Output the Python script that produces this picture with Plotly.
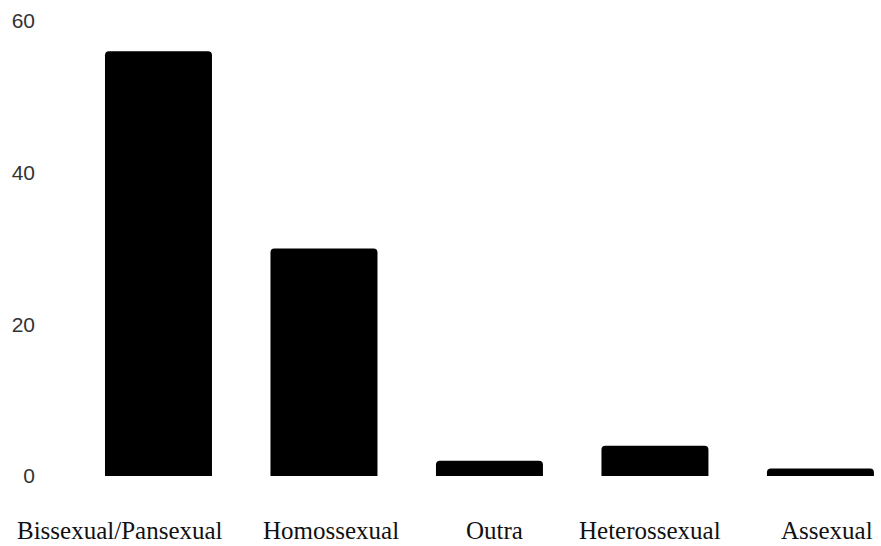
import plotly.graph_objects as go

categories = ["Bissexual/Pansexual", "Homossexual", "Outra", "Heterossexual", "Assexual"]
values = [56, 30, 2, 4, 1]
y_ticks = [0, 20, 40, 60]

fig = go.Figure(go.Bar(
    x=list(range(len(categories))), y=values,
    marker=dict(color="black", line=dict(width=0)),
    hoverinfo="skip",
))

label_shifts = [-38, 7, 5, -5, 7]
for i, (c, s) in enumerate(zip(categories, label_shifts)):
    fig.add_annotation(x=i, y=0, xref="x", yref="paper", text=c, showarrow=False,
                       xshift=s, yshift=-54, yanchor="middle", xanchor="center",
                       font=dict(family="Liberation Serif, Times New Roman, serif", size=25, color="#111"))

fig.update_layout(
    width=881, height=546,
    margin=dict(l=40, r=0, t=21, b=70),
    plot_bgcolor="white", paper_bgcolor="white",
    bargap=0.3535, barcornerradius=4,
    showlegend=False,
    xaxis=dict(range=[-0.716, 4.366], showticklabels=False, showgrid=False, zeroline=False,
               showline=False, ticks=""),
    yaxis=dict(range=[0, 60], tickvals=y_ticks, showgrid=False, zeroline=False, showline=False,
               ticks="", ticklabelstandoff=4,
               tickfont=dict(family="Liberation Sans Narrow, Liberation Sans, Arial, sans-serif", size=21, color="#333")),
)

fig.write_html("out.html", config={"displayModeBar": False},
               post_script="document.body.style.margin='0';document.body.style.padding='0';document.body.style.overflow='hidden';")
